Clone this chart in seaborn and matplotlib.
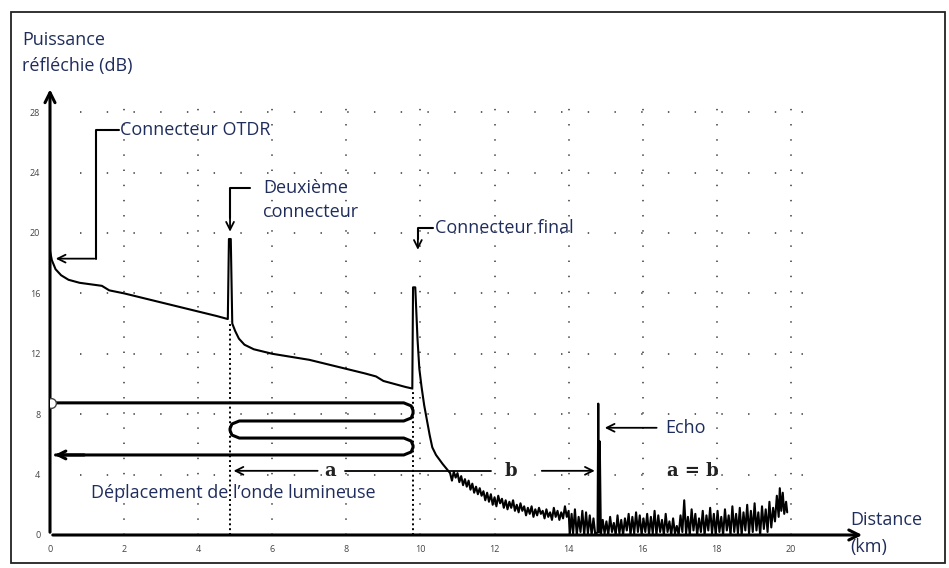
import matplotlib
matplotlib.use("Agg")
import matplotlib.pyplot as plt
from matplotlib.patches import Rectangle
import seaborn as sns
import pandas as pd

# ---------------- data ----------------
# OTDR trace: fibre section 1, connector 2, section 2, final connector + decay
trace_km = [0.0, 0.05, 0.15, 0.3, 0.5, 0.8, 1.1, 1.4, 1.6, 2.0, 2.5, 3.0, 3.5, 4.0, 4.5, 4.8,
            4.83, 4.88, 4.92, 5.0, 5.1, 5.25, 5.5, 6.0, 6.5, 7.0, 7.5, 8.0, 8.5, 8.8, 9.0, 9.3, 9.6, 9.78,
            9.8, 9.86, 9.92, 9.97, 10.03, 10.1, 10.16, 10.25, 10.32, 10.42, 10.51, 10.6, 10.7, 10.8]
trace_db = [18.8, 18.2, 17.6, 17.2, 16.9, 16.7, 16.6, 16.5, 16.2, 16.0, 15.7, 15.4, 15.1, 14.8, 14.5, 14.3,
            19.6, 19.6, 14.0, 13.5, 13.0, 12.6, 12.3, 12.0, 11.8, 11.6, 11.3, 11.0, 10.7, 10.5, 10.2, 10.0, 9.8, 9.7,
            16.4, 16.4, 13.0, 11.0, 9.8, 8.6, 7.8, 6.6, 5.8, 5.3, 5.0, 4.7, 4.4, 4.1]

# noisy tail after the final connector
noise_km = [10.85, 10.9, 10.95, 11.0, 11.05, 11.1, 11.15, 11.2, 11.25, 11.3, 11.35, 11.4, 11.45, 11.5,
            11.55, 11.6, 11.65, 11.7, 11.75, 11.8, 11.85, 11.9, 11.95, 12.0, 12.05, 12.1, 12.15, 12.2,
            12.25, 12.3, 12.35, 12.4, 12.45, 12.5, 12.55, 12.6, 12.65, 12.7, 12.75, 12.8, 12.85, 12.9,
            12.95, 13.0, 13.05, 13.1, 13.15, 13.2, 13.25, 13.3, 13.35, 13.4, 13.45, 13.5, 13.55, 13.6,
            13.65, 13.7, 13.75, 13.8, 13.85, 13.9, 13.95, 14.0,
            14.03, 14.08, 14.12, 14.17, 14.22, 14.27, 14.32, 14.37, 14.42, 14.47, 14.52, 14.57, 14.62,
            14.67, 14.72, 14.78,
            14.8, 14.82, 14.84, 14.87,
            14.92, 14.97, 15.02, 15.07, 15.12, 15.17, 15.22, 15.27, 15.32, 15.37, 15.42, 15.47, 15.52,
            15.57, 15.62, 15.67, 15.72, 15.77, 15.82, 15.87, 15.92, 15.97, 16.02, 16.07, 16.12, 16.17,
            16.22, 16.27, 16.32, 16.37, 16.42, 16.47, 16.52, 16.57, 16.62, 16.67, 16.72, 16.77, 16.82,
            16.87, 16.92, 16.97, 17.02, 17.07, 17.12, 17.17, 17.22, 17.27, 17.32, 17.37, 17.42, 17.47,
            17.52, 17.57, 17.62, 17.67, 17.72, 17.77, 17.82, 17.87, 17.92, 17.97, 18.02, 18.07, 18.12,
            18.17, 18.22, 18.27, 18.32, 18.37, 18.42, 18.47, 18.52, 18.57, 18.62, 18.67, 18.72, 18.77,
            18.82, 18.87, 18.92, 18.97, 19.02, 19.07, 19.12, 19.17, 19.22, 19.27, 19.32, 19.37, 19.42,
            19.47, 19.52, 19.57, 19.62, 19.67, 19.7, 19.74, 19.78, 19.82, 19.87, 19.9]
noise_db = [3.6, 4.2, 3.8, 4.1, 3.5, 3.9, 3.3, 3.7, 3.2, 3.6, 3.0, 3.4, 2.8, 3.2,
            2.7, 3.1, 2.6, 2.9, 2.3, 2.8, 2.2, 2.7, 2.0, 2.5, 1.9, 2.6, 2.1, 2.4,
            1.8, 2.3, 1.7, 2.2, 1.8, 2.3, 1.6, 2.0, 1.5, 2.1, 1.6, 1.9, 1.3, 1.8,
            1.4, 1.9, 1.2, 1.7, 1.3, 1.8, 1.4, 1.6, 1.1, 1.7, 1.2, 1.5, 1.0, 1.8,
            1.2, 1.6, 1.0, 1.5, 1.1, 1.9, 1.2, 1.6,
            0.0, 1.4, 0.1, 1.7, 0.0, 1.2, 0.2, 1.6, 0.0, 1.5, 0.1, 1.3, 0.0,
            1.1, 0.0, 0.2,
            8.7, 0.2, 6.2, 0.0,
            1.0, 0.1, 0.9, 0.0, 1.2, 0.2, 0.8, 0.0, 1.3, 0.1, 1.0, 0.0, 1.1,
            0.3, 1.4, 0.0, 1.2, 0.1, 1.5, 0.2, 1.3, 0.0, 1.1, 0.2, 1.4, 0.0,
            1.2, 0.1, 1.6, 0.0, 1.3, 0.2, 1.0, 0.0, 1.4, 0.2, 0.9, 0.0, 1.1,
            0.1, 0.6, 0.0, 1.3, 0.2, 2.3, 0.1, 1.2, 0.0, 1.7, 0.3, 1.4, 0.0,
            1.1, 0.2, 1.6, 0.0, 1.3, 0.3, 1.8, 0.1, 1.4, 0.0, 1.6, 0.2, 1.2,
            0.0, 1.7, 0.3, 1.3, 0.0, 1.9, 0.2, 1.4, 0.1, 1.8, 0.0, 1.5, 0.3,
            2.0, 0.1, 1.6, 0.2, 2.1, 0.3, 1.5, 0.0, 1.9, 0.4, 1.7, 0.2, 2.2,
            0.5, 1.8, 0.9, 2.6, 1.2, 3.1, 1.6, 2.8, 1.4, 2.2, 1.5]

# event positions (km) and levels (dB)
connector2_km = 4.86
final_km = 9.8
echo_km = 14.8
pulse_levels = [8.75, 7.55, 6.42, 5.3]   # serpentine "travel of the light wave"
dim_level = 4.25

x_ticks = [0, 2, 4, 6, 8, 10, 12, 14, 16, 18, 20]
y_ticks = [0, 4, 8, 12, 16, 20, 24, 28]

TXT = "#1f2d5c"
FONT = ["Open Sans", "DejaVu Sans"]
FS = 13

# ---------------- figure ----------------
sns.set_style("white")
plt.rcParams["font.family"] = FONT

fig = plt.figure(figsize=(9.49, 5.68), dpi=100)
W, H = 949, 568
ax = fig.add_axes([50 / W, (H - 535) / H, 815 / W, 447 / H])
ax.set_xlim(0, 22)
ax.set_ylim(0, 29.6)
for s in ax.spines.values():
    s.set_visible(False)

# frame around the whole picture
fig.patches.append(Rectangle((11 / W, 5 / H), 934 / W, 551 / H, transform=fig.transFigure,
                             fill=False, lw=1.3, ec="#222222"))

# dotted grid
for xv in x_ticks[1:]:
    ax.plot([xv, xv], [0, 28.7], color="#555555", lw=1.3, ls=(0, (0.8, 7.6)), zorder=1)
for yv in y_ticks[1:]:
    ax.plot([0.8, 21.0], [yv, yv], color="#555555", lw=1.3, ls=(0, (0.8, 14)), zorder=1)

# axes with arrows
ax.annotate("", xy=(22.0, 0), xytext=(0, 0),
            arrowprops=dict(arrowstyle="->", lw=2.2, color="black", mutation_scale=18), annotation_clip=False)
ax.annotate("", xy=(0, 29.7), xytext=(0, 0),
            arrowprops=dict(arrowstyle="->", lw=2.2, color="black", mutation_scale=18), annotation_clip=False)

ax.set_xticks(x_ticks)
ax.set_yticks(y_ticks)
ax.tick_params(axis="both", direction="inout", length=8, width=1.3, labelsize=6.5,
               labelcolor="#444444", pad=3)

# trace
df = pd.DataFrame({"km": trace_km + noise_km, "db": trace_db + noise_db})
sns.lineplot(data=df, x="km", y="db", sort=False, color="black", lw=1.5, ax=ax, zorder=5)
ax.set_xlabel("")
ax.set_ylabel("")

# vertical dotted drop lines at the connectors
ax.plot([connector2_km, connector2_km], [0, 14.2], color="black", lw=1.4, ls=(0, (1, 1.5)), zorder=4)
ax.plot([final_km, final_km], [0, 9.7], color="black", lw=1.4, ls=(0, (1, 1.5)), zorder=4)

arrow = dict(arrowstyle="->", lw=1.3, color="black", mutation_scale=14)

# Connecteur OTDR
ax.plot([1.85, 1.25, 1.25], [26.8, 26.8, 18.3], color="black", lw=1.5)
ax.annotate("", xy=(0.08, 18.3), xytext=(1.27, 18.3), arrowprops=arrow)
ax.text(1.9, 26.8, "Connecteur OTDR", color=TXT, fontsize=FS, va="center", ha="left")

# Deuxième connecteur
ax.plot([5.4, connector2_km, connector2_km], [23.0, 23.0, 21.0], color="black", lw=1.5)
ax.annotate("", xy=(connector2_km, 19.9), xytext=(connector2_km, 21.2), arrowprops=arrow)
ax.text(5.75, 23.0, "Deuxième", color=TXT, fontsize=FS, va="center", ha="left")
ax.text(5.75, 21.4, "connecteur", color=TXT, fontsize=FS, va="center", ha="left")

# Connecteur final
ax.plot([10.35, 9.93, 9.93], [20.3, 20.3, 19.6], color="black", lw=1.5)
ax.annotate("", xy=(9.93, 18.7), xytext=(9.93, 19.8), arrowprops=arrow)
ax.text(10.4, 20.3, "Connecteur final", color=TXT, fontsize=FS, va="center", ha="left")

# Echo
ax.annotate("", xy=(echo_km + 0.1, 7.1), xytext=(16.45, 7.1), arrowprops=arrow)
ax.text(16.6, 7.1, "Echo", color=TXT, fontsize=FS, va="center", ha="left")

# serpentine path of the light pulse
r = 0.25
y0, y1, y2, y3 = pulse_levels
path_x = [0.05, final_km - r, final_km - 0.05, final_km, final_km, final_km - 0.05, final_km - r,
          connector2_km + r, connector2_km + 0.05, connector2_km, connector2_km, connector2_km + 0.05,
          connector2_km + r, final_km - r, final_km - 0.05, final_km, final_km, final_km - 0.05,
          final_km - r, 0.15]
path_y = [y0, y0, y0 - 0.2, y0 - 0.5, y1 + 0.5, y1 + 0.2, y1,
          y1, y1 - 0.2, y1 - 0.5, y2 + 0.5, y2 + 0.2,
          y2, y2, y2 - 0.2, y2 - 0.5, y3 + 0.5, y3 + 0.2,
          y3, y3]
ax.plot(path_x, path_y, color="black", lw=2.2, solid_joinstyle="round", zorder=3)
ax.plot([0.02], [y0], marker="o", ms=7, mfc="white", mec="#444444", mew=1.0, zorder=6)
ax.annotate("", xy=(0.05, y3), xytext=(1.0, y3),
            arrowprops=dict(arrowstyle="->", lw=2.2, color="black", mutation_scale=14))

# dimension lines a and b
ax.annotate("", xy=(connector2_km + 0.02, dim_level), xytext=(7.3, dim_level), arrowprops=arrow)
ax.plot([7.95, final_km], [dim_level, dim_level], color="black", lw=1.3)
ax.text(7.55, dim_level, "a", fontsize=13, fontweight="bold", family="DejaVu Serif",
        ha="center", va="center", color="#222222")
ax.plot([final_km, 11.9], [dim_level, dim_level], color="black", lw=1.3)
ax.annotate("", xy=(echo_km - 0.02, dim_level), xytext=(13.2, dim_level), arrowprops=arrow)
ax.text(12.45, dim_level, "b", fontsize=13, fontweight="bold", family="DejaVu Serif",
        ha="center", va="center", color="#222222")
ax.text(16.65, dim_level, "a = b", fontsize=13, fontweight="bold", family="DejaVu Serif",
        ha="left", va="center", color="#222222")

ax.text(4.95, 2.8, "Déplacement de l\u2019onde lumineuse", color=TXT, fontsize=FS,
        ha="center", va="center")

# axis titles
fig.text(22 / W, 1 - 40 / H, "Puissance", color=TXT, fontsize=FS, va="center", ha="left")
fig.text(22 / W, 1 - 66 / H, "réfléchie (dB)", color=TXT, fontsize=FS, va="center", ha="left")
fig.text(850 / W, 1 - 520 / H, "Distance", color=TXT, fontsize=FS, va="center", ha="left")
fig.text(850 / W, 1 - 547 / H, "(km)", color=TXT, fontsize=FS, va="center", ha="left")

fig.savefig("out.png", dpi=100)
